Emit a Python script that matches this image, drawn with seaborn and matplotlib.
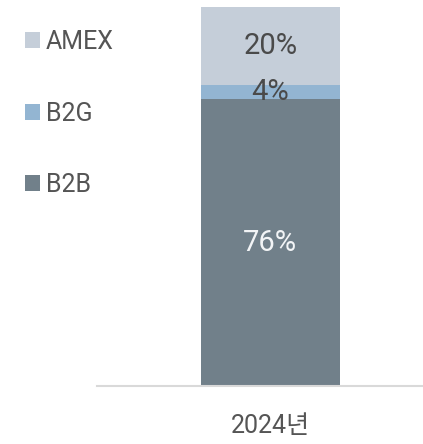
import matplotlib
matplotlib.use("Agg")
import matplotlib.pyplot as plt
import seaborn as sns
import pandas as pd
from matplotlib.patches import Patch

# 데이터
years = ["2024년"]
b2b = [75.7]
b2g = [3.6]
amex = [20.7]
b2b_lbl = ["76%"]
b2g_lbl = ["4%"]
amex_lbl = ["20%"]
series = ["AMEX", "B2G", "B2B"]
colors = {"AMEX": "#c5ced9", "B2G": "#93b5d2", "B2B": "#71808a"}

sns.set_theme(style="white")
plt.rcParams['font.family'] = ['Roboto', 'Noto Sans CJK KR', 'DejaVu Sans']

df = pd.DataFrame({"year": years, "B2B": b2b, "B2G": b2g, "AMEX": amex})
df["top_b2g"] = df["B2B"] + df["B2G"]
df["top_amex"] = df["top_b2g"] + df["AMEX"]

fig = plt.figure(figsize=(4.23, 4.44), dpi=100)
ax = fig.add_axes([0.229, 0.1306, 0.771, 0.8536])

# 누적 막대: 위에서부터 겹쳐 그리기
bw = 0.426
sns.barplot(data=df, x="year", y="top_amex", color=colors["AMEX"], width=bw, ax=ax, saturation=1)
sns.barplot(data=df, x="year", y="top_b2g", color=colors["B2G"], width=bw, ax=ax, saturation=1)
sns.barplot(data=df, x="year", y="B2B", color=colors["B2B"], width=bw, ax=ax, saturation=1)
for p in ax.patches:
    p.set_edgecolor("none")

# 라벨
for i in range(len(df)):
    ax.text(i, df["B2B"][i] / 2, b2b_lbl[i], ha="center", va="center", fontsize=21, color="#f2f4f6")
    ax.text(i, df["top_b2g"][i] - df["B2G"][i] / 2, b2g_lbl[i], ha="center", va="center", fontsize=21, color="#4a4a4a")
    ax.text(i, df["top_b2g"][i] + df["AMEX"][i] / 2, amex_lbl[i], ha="center", va="center", fontsize=21, color="#4a4a4a")

ax.set_xlim(-0.532, 0.468)
ax.set_ylim(0, 100)
ax.set_xlabel("")
ax.set_ylabel("")
ax.set_yticks([])
ax.tick_params(axis="x", length=0, pad=20, labelsize=18, labelcolor="#555555")
for s in ["left", "right", "top"]:
    ax.spines[s].set_visible(False)
ax.spines["bottom"].set_color("#d9d9d9")
ax.spines["bottom"].set_linewidth(1.5)

handles = [Patch(facecolor=colors[s], edgecolor="none") for s in series]
fig.legend(handles, series, loc="upper left", bbox_to_anchor=(0.059, 0.932), frameon=False,
           borderpad=0, borderaxespad=0,
           fontsize=18, labelcolor="#555555", handlelength=0.6, handleheight=0.6,
           handletextpad=0.24, labelspacing=1.9)

fig.savefig("out.png", dpi=100)
